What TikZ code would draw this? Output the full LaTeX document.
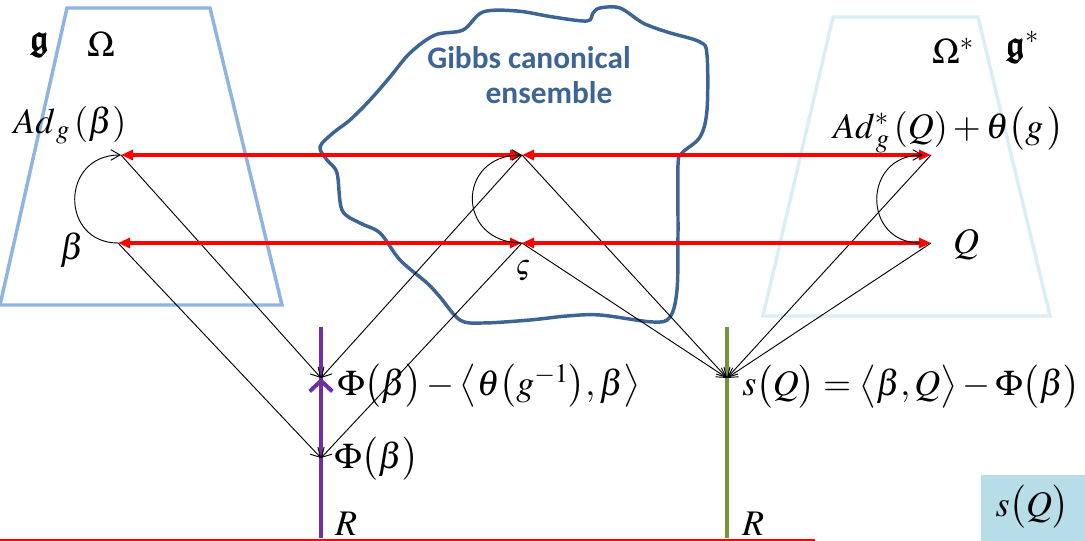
\documentclass[tikz,border=0pt]{standalone}
\usepackage{amsmath,amssymb,bm}
\usepackage{mathptmx}
\usepackage{fontspec}
\setmainfont{Liberation Serif}
\newfontfamily\gibbsfont{Carlito}
\usetikzlibrary{arrows.meta}
\definecolor{trapL}{HTML}{8EB4E3}
\definecolor{trapR}{HTML}{DAEEF3}
\definecolor{gibbsc}{HTML}{3C6494}
\definecolor{purp}{HTML}{7030A0}
\definecolor{olivec}{HTML}{77933C}
\definecolor{boxblue}{HTML}{B7DEE8}
\tikzset{
  mtext/.style={inner sep=0pt, font=\fontsize{27}{32}\selectfont},
  redarrow/.style={red, line width=2.6pt, {Triangle[length=9pt,width=7.5pt]}-{Triangle[length=9pt,width=7.5pt]}},
  blkarrow/.style={black, line width=0.7pt, -{Straight Barb[length=7pt,width=8pt]}},
  trap/.style={line width=2.6pt, line join=miter},
  gibbstext/.style={inner sep=0pt, text=gibbsc, font=\gibbsfont\bfseries\fontsize{23.5}{26}\selectfont},
}
\begin{document}
\begin{tikzpicture}[x=0.75pt,y=-0.75pt]
\useasboundingbox (0,0) rectangle (1085,541);
% trapezoids
\draw[trap, trapL] (67,8) -- (210,8) -- (282,305) -- (0,305) -- cycle;
\draw[trap, trapR] (833,17) -- (978,17) -- (1050,316) -- (763,316) -- cycle;
% Gibbs blob
\draw[gibbsc, line width=2.6pt] plot[smooth cycle, tension=0.55] coordinates {
 (483,12) (517,11) (553,17) (587,21) (593,13) (600,8) (620,8) (643,23) (667,32) (700,42) (707,55)
 (707,110) (700,137) (682,153) (678,165) (678,233) (677,290) (670,317) (653,322) (600,315)
 (567,316) (530,320) (483,323) (460,320) (440,297) (427,283) (400,260) (380,233) (360,223)
 (342,210) (337,173) (327,160) (320,147) (333,133) (350,120) (370,100) (390,77) (410,53)
 (435,35) (463,30)};
\node[gibbstext] (g1) at (529,58) {Gibbs canonical};
\node[gibbstext] (g2) at (549,93) {ensemble};
% labels
\node[mtext] (fg) at (40,45) {$\pmb{\mathfrak{g}}$};
\node[mtext] (om) at (101,44) {$\Omega$};
\node[mtext] (oms) at (953,51) {$\Omega^{*}$};
\node[mtext] (fgs) at (1023,47) {$\pmb{\mathfrak{g}}^{*}$};
\node[mtext, anchor=west] (adb) at (13,125) {$Ad_{\,g}\,(\beta)$};
\node[mtext, anchor=east] (adq) at (1064,130) {$Ad^{*}_{\,g}\,(Q)+\theta\bigl(g\,\bigr)$};
\node[mtext] (beta) at (72,250) {$\beta$};
\node[mtext] (qq) at (966,245) {$Q$};
\node[inner sep=0pt, font=\fontsize{21}{22}\selectfont] (vs) at (523,271) {$\varsigma$};
\node[mtext, anchor=west] (phi1) at (337,386) {$\Phi\bigl(\beta\bigr)-\bigl\langle\theta\bigl(g^{-1}\bigr),\beta\bigr\rangle$};
\node[mtext, anchor=west] (phi2) at (334,459) {$\Phi\bigl(\beta\bigr)$};
\node[mtext, anchor=west] (sq) at (742,387) {$s\bigl(Q\bigr)=\bigl\langle\beta,Q\bigr\rangle-\Phi\bigl(\beta\bigr)$};
\node[mtext] (r1) at (346,524) {$R$};
\node[mtext] (r2) at (753,524) {$R$};
% box
\fill[boxblue] (981,475) rectangle (1085,541);
\node[mtext] (sqbox) at (1032,507) {$s\bigl(Q\bigr)$};
% key points
\coordinate (A) at (121,155);
\coordinate (B) at (118,243);
\coordinate (M1) at (522,155);
\coordinate (M2) at (522,243);
\coordinate (C) at (931,155);
\coordinate (D) at (931,243);
\coordinate (P1) at (321,378);
\coordinate (P2) at (321,458);
\coordinate (S) at (727,378);
\coordinate (Ptop) at (321,327);
\coordinate (Pbot) at (321,538);
\coordinate (Gtop) at (727,327);
\coordinate (Gbot) at (727,538);
\coordinate (L0) at (0,540);
\coordinate (L1) at (815,540);
% vertical axes
\draw[purp, line width=2.8pt] (Pbot) -- (Ptop);
\draw[purp, line width=3.5pt, -{Straight Barb[length=8pt,width=17pt,line width=3pt]}] (P2) -- (P1);
\draw[olivec, line width=2.8pt] (Gbot) -- (Gtop);
\draw[red, line width=0.9pt] (L0) -- (L1);
% black straight arrows
\draw[blkarrow] (A) -- (P1);
\draw[blkarrow] (B) -- (P2);
\draw[blkarrow] (M1) -- (P1);
\draw[blkarrow] (M2) -- (P2);
\draw[blkarrow] (M1) -- (S);
\draw[blkarrow] (M2) -- (S);
\draw[blkarrow] (C) -- (S);
\draw[blkarrow] (D) -- (S);
% red arrows
\draw[redarrow] (A) -- (M1);
\draw[redarrow] (M1) -- (C);
\draw[redarrow] (B) -- (M2);
\draw[redarrow] (M2) -- (D);
% curved arrows
\draw[blkarrow] (B) .. controls (60,243) and (60,155) .. (A);
\draw[blkarrow] (M2) .. controls (456,243) and (456,155) .. (M1);
\draw[blkarrow] ([xshift=-8]D) .. controls (862,243) and (862,155) .. ([xshift=-6]C);
\end{tikzpicture}
\end{document}
